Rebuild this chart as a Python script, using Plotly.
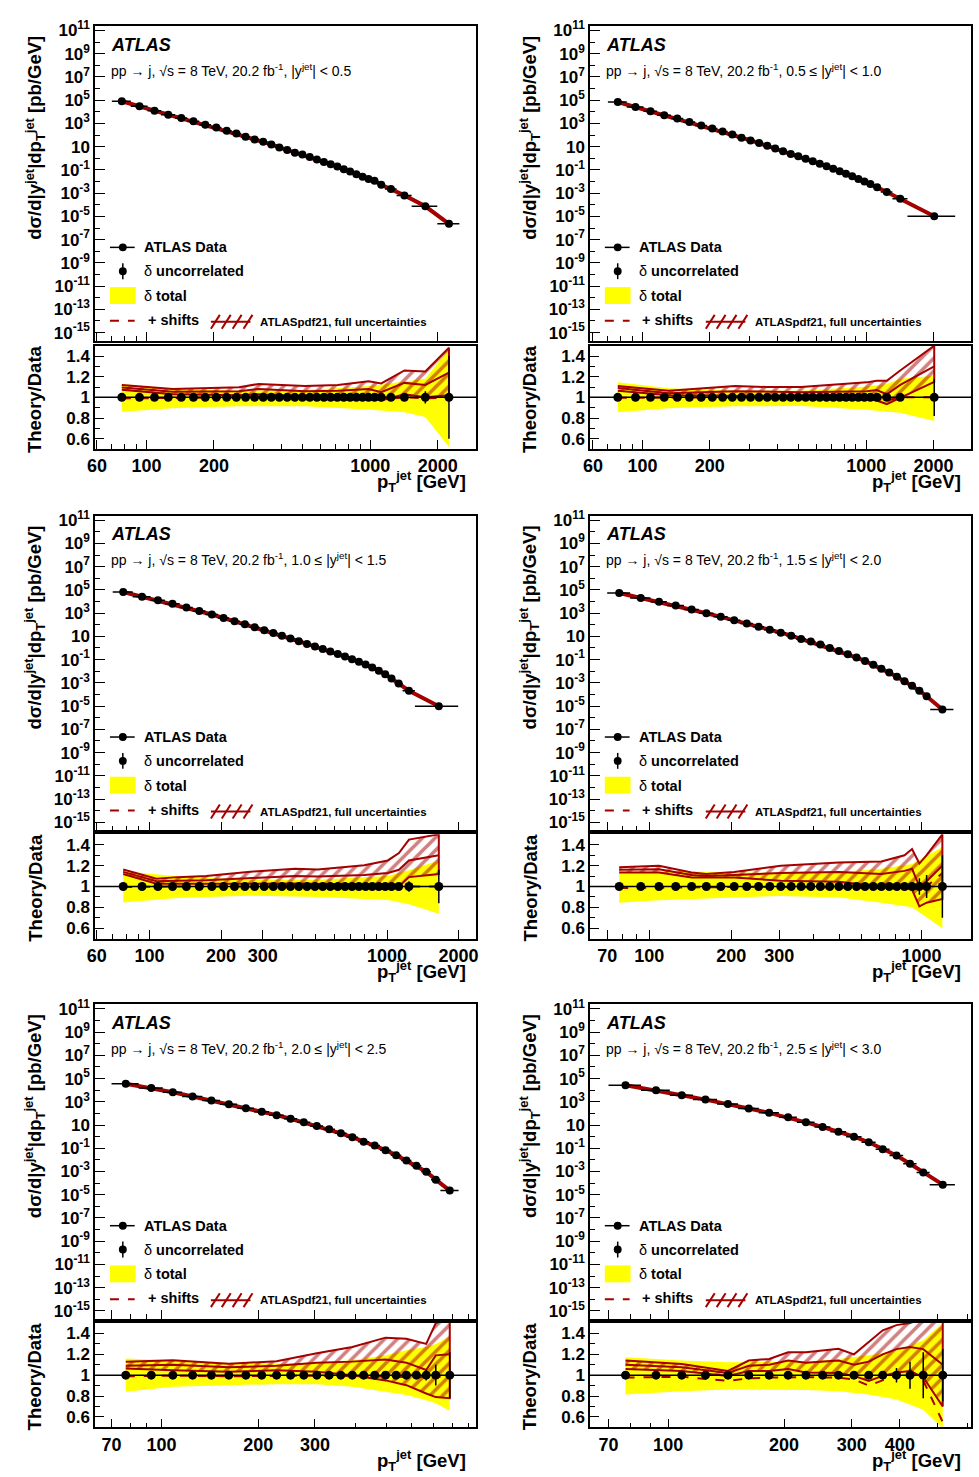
import plotly.graph_objects as go

W, H = 979, 1477
DARKRED = '#a30000'
YELLOW = '#ffff00'
FONT = 'Liberation Sans, Arial, Helvetica, sans-serif'

# pT bin edges [GeV]
edges_full = [70, 85, 101, 116, 134, 152, 172, 194, 216, 240, 264, 290, 318, 346, 376,
              408, 442, 478, 516, 556, 598, 642, 688, 736, 786, 838, 894, 952, 1012,
              1076, 1162, 1310, 1530, 1992, 2500]
edges_y00 = edges_full
edges_y05 = edges_full[:33] + [2500]
edges_y10 = edges_full[:32] + [1992]
edges_y15 = edges_full[:30] + [1310]
edges_y20 = edges_full[:24] + [838]
edges_y25 = edges_full[:18] + [556]

# log10 of d2sigma/d|y|dpT [pb/GeV]
lxs_y00 = [4.91, 4.48, 4.10, 3.76, 3.48, 3.20, 2.88, 2.65, 2.37, 2.14, 1.85, 1.62, 1.43, 1.20,
           0.94, 0.72, 0.49, 0.32, 0.12, -0.11, -0.31, -0.51, -0.71, -0.94, -1.14, -1.37,
           -1.59, -1.79, -1.93, -2.27, -2.65, -3.19, -4.13, -5.64]
lxs_y05 = [4.85, 4.42, 4.05, 3.71, 3.42, 3.13, 2.82, 2.57, 2.30, 2.05, 1.78, 1.54, 1.32, 1.09,
           0.84, 0.60, 0.38, 0.17, -0.04, -0.26, -0.47, -0.68, -0.89, -1.11, -1.33, -1.55,
           -1.78, -2.00, -2.22, -2.50, -2.90, -3.47, -4.98]
lxs_y10 = [4.82, 4.42, 4.10, 3.80, 3.48, 3.18, 2.88, 2.58, 2.30, 2.04, 1.78, 1.53, 1.29, 1.05,
           0.81, 0.58, 0.35, 0.13, -0.09, -0.30, -0.52, -0.74, -0.96, -1.19, -1.43, -1.68,
           -1.95, -2.25, -2.62, -3.05, -3.68, -5.01]
lxs_y15 = [4.73, 4.31, 3.97, 3.65, 3.31, 2.99, 2.68, 2.39, 2.11, 1.83, 1.57, 1.32, 1.06, 0.77,
           0.55, 0.29, 0.00, -0.26, -0.54, -0.82, -1.11, -1.45, -1.79, -2.10, -2.48, -2.87,
           -3.25, -3.68, -4.15, -5.30]
lxs_y20 = [4.56, 4.19, 3.82, 3.45, 3.11, 2.79, 2.45, 2.14, 1.85, 1.54, 1.23, 0.91, 0.63, 0.29,
           -0.05, -0.43, -0.77, -1.16, -1.59, -2.05, -2.50, -3.02, -3.70, -4.64]
lxs_y25 = [4.42, 3.99, 3.56, 3.19, 2.82, 2.43, 2.05, 1.66, 1.23, 0.83, 0.43, 0.00, -0.48, -1.08,
           -1.62, -2.33, -3.08, -4.13]

# relative uncorrelated uncertainty of the data
unc_y00 = [0.01] * 30 + [0.02, 0.03, 0.06, 0.40]
unc_y05 = [0.01] * 31 + [0.03, 0.18]
unc_y10 = [0.01] * 30 + [0.05, 0.16]
unc_y15 = [0.01] * 26 + [0.03, 0.08, 0.11, 0.30]
unc_y20 = [0.01] * 21 + [0.05, 0.10, 0.22]
unc_y25 = [0.01] * 13 + [0.04, 0.07, 0.13, 0.22, 0.25]

# total uncertainty band (yellow), relative up/down
tot_pt_y00 = [77.5, 131, 259, 511, 1007, 1420, 1761, 2246]
tot_up_y00 = [0.13, 0.08, 0.064, 0.07, 0.11, 0.155, 0.18, 0.47]
tot_dn_y00 = [0.14, 0.106, 0.087, 0.087, 0.12, 0.145, 0.19, 0.48]
tot_pt_y05 = [77.5, 131, 259, 511, 1007, 1236, 1420, 2015]
tot_up_y05 = [0.145, 0.087, 0.064, 0.064, 0.106, 0.13, 0.18, 0.21]
tot_dn_y05 = [0.145, 0.106, 0.087, 0.084, 0.12, 0.14, 0.15, 0.23]
tot_pt_y10 = [77.5, 131, 259, 511, 1007, 1236, 1651]
tot_up_y10 = [0.146, 0.098, 0.065, 0.065, 0.10, 0.156, 0.25]
tot_dn_y10 = [0.153, 0.111, 0.088, 0.10, 0.13, 0.17, 0.26]
tot_pt_y15 = [77.5, 108.5, 205, 304, 497, 712, 923, 1193]
tot_up_y15 = [0.15, 0.15, 0.135, 0.13, 0.14, 0.17, 0.216, 0.38]
tot_dn_y15 = [0.155, 0.132, 0.106, 0.09, 0.106, 0.155, 0.2, 0.4]
tot_pt_y20 = [77.5, 108.5, 162, 228, 304, 392, 497, 577, 665, 712, 787]
tot_up_y20 = [0.16, 0.144, 0.118, 0.112, 0.118, 0.144, 0.19, 0.24, 0.27, 0.30, 0.37]
tot_dn_y20 = [0.16, 0.112, 0.096, 0.086, 0.086, 0.112, 0.16, 0.19, 0.24, 0.27, 0.34]
tot_pt_y25 = [77.5, 108.5, 143, 183, 228, 277, 332, 392, 425, 460, 517]
tot_up_y25 = [0.172, 0.14, 0.124, 0.124, 0.13, 0.156, 0.19, 0.237, 0.286, 0.335, 0.5]
tot_dn_y25 = [0.185, 0.153, 0.137, 0.137, 0.143, 0.153, 0.185, 0.234, 0.283, 0.332, 0.51]

# ATLASpdf21 theory / data band (hi, mid, lo) and the "+ shifts" curve
th_pt_y00 = [77.5, 131, 259, 317, 511, 716, 982, 1119, 1420, 1761, 2246]
th_hi_y00 = [1.12, 1.08, 1.097, 1.13, 1.11, 1.12, 1.155, 1.135, 1.26, 1.25, 1.48]
th_mid_y00 = [1.095, 1.055, 1.06, 1.08, 1.06, 1.065, 1.08, 1.05, 1.14, 1.12, 1.24]
th_lo_y00 = [1.074, 1.03, 1.02, 1.03, 1.01, 1.005, 1.0, 0.97, 1.03, 1.0, 1.02]
shift_y00 = [0.99, 0.995, 1.0, 1.0, 1.0, 0.995, 0.99, 0.98, 1.0, 0.99, 1.0]

th_pt_y05 = [77.5, 131, 259, 360, 511, 1007, 1114, 1236, 1420, 2015]
th_hi_y05 = [1.11, 1.064, 1.11, 1.10, 1.10, 1.145, 1.16, 1.16, 1.26, 1.5]
th_mid_y05 = [1.09, 1.04, 1.06, 1.055, 1.05, 1.06, 1.07, 1.03, 1.12, 1.3]
th_lo_y05 = [1.064, 1.02, 1.016, 1.01, 1.006, 0.985, 0.97, 0.935, 1.0, 1.15]
shift_y05 = [0.995, 1.0, 1.0, 1.0, 1.0, 0.99, 0.98, 0.97, 1.0, 1.0]

th_pt_y10 = [77.5, 107, 131, 173, 259, 410, 511, 802, 1007, 1122, 1236, 1651]
th_hi_y10 = [1.163, 1.075, 1.09, 1.10, 1.14, 1.17, 1.163, 1.205, 1.25, 1.32, 1.45, 1.5]
th_mid_y10 = [1.14, 1.05, 1.055, 1.06, 1.08, 1.10, 1.095, 1.11, 1.13, 1.16, 1.25, 1.3]
th_lo_y10 = [1.12, 1.026, 1.02, 1.026, 1.026, 1.03, 1.026, 1.02, 1.01, 1.0, 1.09, 1.12]
shift_y10 = [0.995, 1.0, 1.0, 1.0, 1.0, 1.0, 1.0, 1.0, 0.995, 0.99, 1.0, 1.0]

th_pt_y15 = [77.5, 108.5, 143, 162, 205, 304, 497, 712, 866, 923, 982, 1044, 1193]
th_hi_y15 = [1.184, 1.2, 1.135, 1.12, 1.14, 1.2, 1.23, 1.24, 1.30, 1.36, 1.22, 1.30, 1.5]
th_mid_y15 = [1.16, 1.165, 1.11, 1.10, 1.11, 1.13, 1.14, 1.12, 1.15, 1.17, 1.0, 1.05, 1.2]
th_lo_y15 = [1.135, 1.135, 1.087, 1.087, 1.087, 1.055, 1.045, 1.0, 0.99, 0.97, 0.81, 0.845, 0.88]
shift_y15 = [0.985, 0.99, 0.99, 0.99, 0.995, 0.995, 0.99, 0.985, 0.98, 0.98, 0.97, 1.0, 1.13]

th_pt_y20 = [77.5, 108.5, 162, 228, 304, 392, 497, 577, 665, 712, 787]
th_hi_y20 = [1.128, 1.144, 1.11, 1.134, 1.21, 1.27, 1.36, 1.35, 1.30, 1.5, 1.55]
th_mid_y20 = [1.09, 1.10, 1.075, 1.09, 1.12, 1.13, 1.15, 1.12, 1.05, 1.19, 1.2]
th_lo_y20 = [1.064, 1.048, 1.032, 1.048, 1.032, 1.0, 0.95, 0.904, 0.824, 0.79, 0.78]
shift_y20 = [0.99, 0.995, 0.99, 0.995, 0.995, 0.99, 0.985, 0.98, 0.98, 0.98, 1.0]

th_pt_y25 = [77.5, 108.5, 143, 162, 183, 205, 228, 277, 304, 332, 361, 392, 425, 460, 517]
th_hi_y25 = [1.14, 1.107, 1.04, 1.14, 1.156, 1.22, 1.22, 1.254, 1.2, 1.32, 1.43, 1.48, 1.5, 1.55, 1.55]
th_mid_y25 = [1.10, 1.075, 1.02, 1.09, 1.10, 1.14, 1.12, 1.14, 1.1, 1.13, 1.2, 1.25, 1.27, 1.25, 1.1]
th_lo_y25 = [1.06, 1.04, 0.993, 1.04, 1.04, 1.06, 1.026, 1.02, 0.993, 0.945, 0.993, 1.026, 1.04, 0.98, 0.70]
shift_y25 = [0.977, 0.985, 0.945, 0.97, 0.977, 0.98, 0.98, 0.977, 0.96, 0.9, 0.95, 1.0, 1.05, 0.95, 0.55]

# rapidity labels and x-axis tick labels
ylabels = ['|y<sup>jet</sup>| < 0.5', '0.5 ≤ |y<sup>jet</sup>| < 1.0', '1.0 ≤ |y<sup>jet</sup>| < 1.5',
           '1.5 ≤ |y<sup>jet</sup>| < 2.0', '2.0 ≤ |y<sup>jet</sup>| < 2.5', '2.5 ≤ |y<sup>jet</sup>| < 3.0']
xticks = [[60, 100, 200, 1000, 2000], [60, 100, 200, 1000, 2000], [60, 100, 200, 300, 1000, 2000],
          [70, 100, 200, 300, 1000], [70, 100, 200, 300], [70, 100, 200, 300, 400]]
xranges = [[1.770, 3.473], [1.765, 3.469], [1.771, 3.375], [1.782, 3.182], [1.794, 2.978], [1.797, 2.787]]

panels = [
    dict(edges=edges_y00, lxs=lxs_y00, unc=unc_y00, tp=tot_pt_y00, tu=tot_up_y00, td=tot_dn_y00,
         hp=th_pt_y00, hh=th_hi_y00, hm=th_mid_y00, hl=th_lo_y00, sh=shift_y00),
    dict(edges=edges_y05, lxs=lxs_y05, unc=unc_y05, tp=tot_pt_y05, tu=tot_up_y05, td=tot_dn_y05,
         hp=th_pt_y05, hh=th_hi_y05, hm=th_mid_y05, hl=th_lo_y05, sh=shift_y05),
    dict(edges=edges_y10, lxs=lxs_y10, unc=unc_y10, tp=tot_pt_y10, tu=tot_up_y10, td=tot_dn_y10,
         hp=th_pt_y10, hh=th_hi_y10, hm=th_mid_y10, hl=th_lo_y10, sh=shift_y10),
    dict(edges=edges_y15, lxs=lxs_y15, unc=unc_y15, tp=tot_pt_y15, tu=tot_up_y15, td=tot_dn_y15,
         hp=th_pt_y15, hh=th_hi_y15, hm=th_mid_y15, hl=th_lo_y15, sh=shift_y15),
    dict(edges=edges_y20, lxs=lxs_y20, unc=unc_y20, tp=tot_pt_y20, tu=tot_up_y20, td=tot_dn_y20,
         hp=th_pt_y20, hh=th_hi_y20, hm=th_mid_y20, hl=th_lo_y20, sh=shift_y20),
    dict(edges=edges_y25, lxs=lxs_y25, unc=unc_y25, tp=tot_pt_y25, tu=tot_up_y25, td=tot_dn_y25,
         hp=th_pt_y25, hh=th_hi_y25, hm=th_mid_y25, hl=th_lo_y25, sh=shift_y25),
]

# panel geometry in page pixels
COLS = [(88, 473), (588, 973)]
ROWS = [((18, 335), (340, 444)), ((511, 828), (832, 937)), ((1003, 1320), (1324, 1429))]
ALL_X = [60, 70, 80, 90, 100, 200, 300, 400, 500, 600, 700, 800, 900, 1000, 2000, 3000]


def px(x):
    return min(1.0, max(0.0, x / W))


def py(y):
    return min(1.0, max(0.0, 1 - y / H))


def ax(i):
    return '' if i == 1 else str(i)


def fmt_exp(e):
    if e == 1:
        return '10'
    return '10<sup>%d</sup>' % e


main_exp = list(range(11, -16, -2))
main_minor = [10.0 ** e for e in range(-16, 13, 2)]

fig = go.Figure()
layout = dict(width=W, height=H, margin=dict(l=0, r=0, t=0, b=0), autosize=False,
              plot_bgcolor='white', paper_bgcolor='white', showlegend=False,
              font=dict(family=FONT, color='black'))
shapes, annotations = [], []

for k, p in enumerate(panels):
    col, row = k % 2, k // 2
    X0, X1 = COLS[col]
    (mt, mb), (rt, rb) = ROWS[row]
    m, r = k + 1, k + 7
    major = xticks[k]
    minor = [v for v in ALL_X if v not in major]

    base_x = dict(type='log', range=xranges[k], showgrid=False, zeroline=False, showline=True,
                  linecolor='black', linewidth=1.5, mirror=True, ticks='inside', ticklen=9,
                  tickcolor='black', tickwidth=1.2, tickvals=major,
                  minor=dict(tickvals=minor, ticks='inside', ticklen=5, tickcolor='black'))
    layout['xaxis' + ax(m)] = dict(base_x, domain=[px(X0), px(X1)], anchor='y' + ax(m),
                                   showticklabels=False)
    layout['xaxis' + ax(r)] = dict(base_x, domain=[px(X0), px(X1)], anchor='y' + ax(r),
                                   ticktext=[str(v) for v in major],
                                   tickfont=dict(size=18, weight='bold'))
    layout['yaxis' + ax(m)] = dict(type='log', range=[-15.7, 11.4], domain=[py(mb), py(mt)],
                                   anchor='x' + ax(m), showgrid=False, zeroline=False,
                                   showline=True, linecolor='black', linewidth=1.5, mirror=True,
                                   ticks='inside', ticklen=10, tickcolor='black',
                                   tickvals=[10.0 ** e for e in main_exp],
                                   ticktext=[fmt_exp(e) for e in main_exp],
                                   tickfont=dict(size=17, weight='bold'),
                                   minor=dict(tickvals=main_minor, ticks='inside', ticklen=5,
                                              tickcolor='black'))
    layout['yaxis' + ax(r)] = dict(range=[0.5, 1.5], domain=[py(rb), py(rt)], anchor='x' + ax(r),
                                   showgrid=False, zeroline=False, showline=True,
                                   linecolor='black', linewidth=1.5, mirror=True,
                                   ticks='inside', ticklen=9, tickcolor='black',
                                   tickvals=[0.6, 0.8, 1.0, 1.2, 1.4],
                                   ticktext=['0.6', '0.8', '1', '1.2', '1.4'],
                                   tickfont=dict(size=17, weight='bold'),
                                   minor=dict(tickvals=[0.5, 0.7, 0.9, 1.1, 1.3, 1.5],
                                              ticks='inside', ticklen=5, tickcolor='black'))

    edges = p['edges']
    centers = [(a + b) / 2 for a, b in zip(edges[:-1], edges[1:])]
    plus = [b - c for b, c in zip(edges[1:], centers)]
    minus = [c - a for a, c in zip(edges[:-1], centers)]
    yv = [10.0 ** v for v in p['lxs']]
    xm, ym = 'x' + ax(m), 'y' + ax(m)
    xr, yr = 'x' + ax(r), 'y' + ax(r)

    # main panel
    fig.add_trace(go.Scatter(x=centers, y=yv, mode='lines', line=dict(color=DARKRED, width=4),
                             xaxis=xm, yaxis=ym, hoverinfo='skip'))
    fig.add_trace(go.Scatter(x=centers, y=yv, mode='markers', marker=dict(color='black', size=8),
                             error_x=dict(type='data', symmetric=False, array=plus,
                                          arrayminus=minus, width=0, thickness=1.5,
                                          color='black'),
                             xaxis=xm, yaxis=ym))

    # ratio panel
    tp = p['tp']
    fig.add_trace(go.Scatter(x=tp + tp[::-1],
                             y=[1 + u for u in p['tu']] + [1 - d for d in p['td'][::-1]],
                             mode='lines', fill='toself', fillcolor=YELLOW,
                             line=dict(width=0, color=YELLOW), xaxis=xr, yaxis=yr,
                             hoverinfo='skip'))
    hp = p['hp']
    fig.add_trace(go.Scatter(x=hp + hp[::-1], y=p['hh'] + p['hl'][::-1], mode='lines',
                             fill='toself', fillcolor='rgba(0,0,0,0)',
                             fillpattern=dict(shape='/', fgcolor=DARKRED,
                                              bgcolor='rgba(0,0,0,0)', size=9, solidity=0.4),
                             line=dict(color=DARKRED, width=2), xaxis=xr, yaxis=yr,
                             hoverinfo='skip'))
    fig.add_trace(go.Scatter(x=hp, y=p['hm'], mode='lines', line=dict(color=DARKRED, width=2),
                             xaxis=xr, yaxis=yr, hoverinfo='skip'))
    fig.add_trace(go.Scatter(x=hp, y=p['sh'], mode='lines',
                             line=dict(color=DARKRED, width=2, dash='dash'),
                             xaxis=xr, yaxis=yr, hoverinfo='skip'))
    fig.add_trace(go.Scatter(x=centers, y=[1.0] * len(centers), mode='markers',
                             marker=dict(color='black', size=9),
                             error_y=dict(type='data', array=p['unc'], width=0, thickness=1.5,
                                          color='black'),
                             xaxis=xr, yaxis=yr))
    shapes.append(dict(type='line', xref=xr + ' domain', yref=yr, x0=0, x1=1, y0=1, y1=1,
                       line=dict(color='black', width=1.5), layer='above'))

    # titles
    annotations.append(dict(x=px(X0 - 61), y=py(mt + 113), xref='paper', yref='paper',
                            text='<b>dσ/d|y<sup>jet</sup>|dp<sub>T</sub><sup>jet</sup> [pb/GeV]</b>',
                            textangle=-90, showarrow=False, font=dict(size=18.5),
                            xanchor='center', yanchor='middle'))
    annotations.append(dict(x=px(X0 - 61), y=py(rt + 54), xref='paper', yref='paper',
                            text='<b>Theory/Data</b>', textangle=-90, showarrow=False,
                            font=dict(size=18.5), xanchor='center', yanchor='middle'))
    annotations.append(dict(x=px(X1 - 8), y=py(rb + 33), xref='paper', yref='paper',
                            text='<b>p<sub>T</sub><sup>jet</sup> [GeV]</b>', showarrow=False,
                            font=dict(size=18.5), xanchor='right', yanchor='middle'))
    annotations.append(dict(x=px(X0 + 14), y=py(mt + 19), xref='paper', yref='paper',
                            text='<b><i>ATLAS</i></b>', showarrow=False, font=dict(size=18),
                            xanchor='left', yanchor='middle'))
    annotations.append(dict(x=px(X0 + 14), y=py(mt + 44), xref='paper', yref='paper',
                            text='pp → j, √s = 8 TeV, 20.2 fb<sup>-1</sup>, ' + ylabels[k],
                            showarrow=False, font=dict(size=14), xanchor='left',
                            yanchor='middle'))

    # legend
    def lx(d):
        return px(X0 + d)

    def ly(d):
        return py(mt + d)

    shapes.append(dict(type='line', xref='paper', yref='paper', x0=lx(15), x1=lx(40),
                       y0=ly(223), y1=ly(223), line=dict(color='black', width=1.5)))
    shapes.append(dict(type='circle', xref='paper', yref='paper', x0=lx(24), x1=lx(32),
                       y0=ly(219), y1=ly(227), fillcolor='black', line=dict(width=0)))
    shapes.append(dict(type='line', xref='paper', yref='paper', x0=lx(28), x1=lx(28),
                       y0=ly(239), y1=ly(255), line=dict(color='black', width=1.5)))
    shapes.append(dict(type='circle', xref='paper', yref='paper', x0=lx(24), x1=lx(32),
                       y0=ly(243), y1=ly(251), fillcolor='black', line=dict(width=0)))
    shapes.append(dict(type='rect', xref='paper', yref='paper', x0=lx(15), x1=lx(41),
                       y0=ly(263), y1=ly(280), fillcolor=YELLOW, line=dict(width=0)))
    shapes.append(dict(type='line', xref='paper', yref='paper', x0=lx(15), x1=lx(40),
                       y0=ly(297), y1=ly(297), line=dict(color=DARKRED, width=2, dash='dash')))
    shapes.append(dict(type='line', xref='paper', yref='paper', x0=lx(117), x1=lx(157),
                       y0=ly(298), y1=ly(298), line=dict(color=DARKRED, width=2)))
    for i in range(4):
        shapes.append(dict(type='line', xref='paper', yref='paper', x0=lx(117 + 11 * i),
                           x1=lx(126 + 11 * i), y0=ly(305), y1=ly(291),
                           line=dict(color=DARKRED, width=2)))
    annotations.append(dict(x=lx(47), y=ly(223), xref='paper', yref='paper',
                            text='<b>ATLAS Data</b>', showarrow=False, font=dict(size=14.5),
                            xanchor='left', yanchor='middle'))
    annotations.append(dict(x=lx(47), y=ly(247), xref='paper', yref='paper',
                            text='δ <b>uncorrelated</b>', showarrow=False, font=dict(size=14.5),
                            xanchor='left', yanchor='middle'))
    annotations.append(dict(x=lx(47), y=ly(272), xref='paper', yref='paper',
                            text='δ <b>total</b>', showarrow=False, font=dict(size=14.5),
                            xanchor='left', yanchor='middle'))
    annotations.append(dict(x=lx(51), y=ly(296), xref='paper', yref='paper',
                            text='<b>+ shifts</b>', showarrow=False, font=dict(size=14.5),
                            xanchor='left', yanchor='middle'))
    annotations.append(dict(x=lx(165), y=ly(298), xref='paper', yref='paper',
                            text='<b>ATLASpdf21, full uncertainties</b>', showarrow=False,
                            font=dict(size=11.5), xanchor='left', yanchor='middle'))

layout['shapes'] = shapes
layout['annotations'] = annotations
fig.update_layout(layout)
fig.write_html("out.html", config={'displayModeBar': False},
               post_script="document.body.style.margin='0px';")
